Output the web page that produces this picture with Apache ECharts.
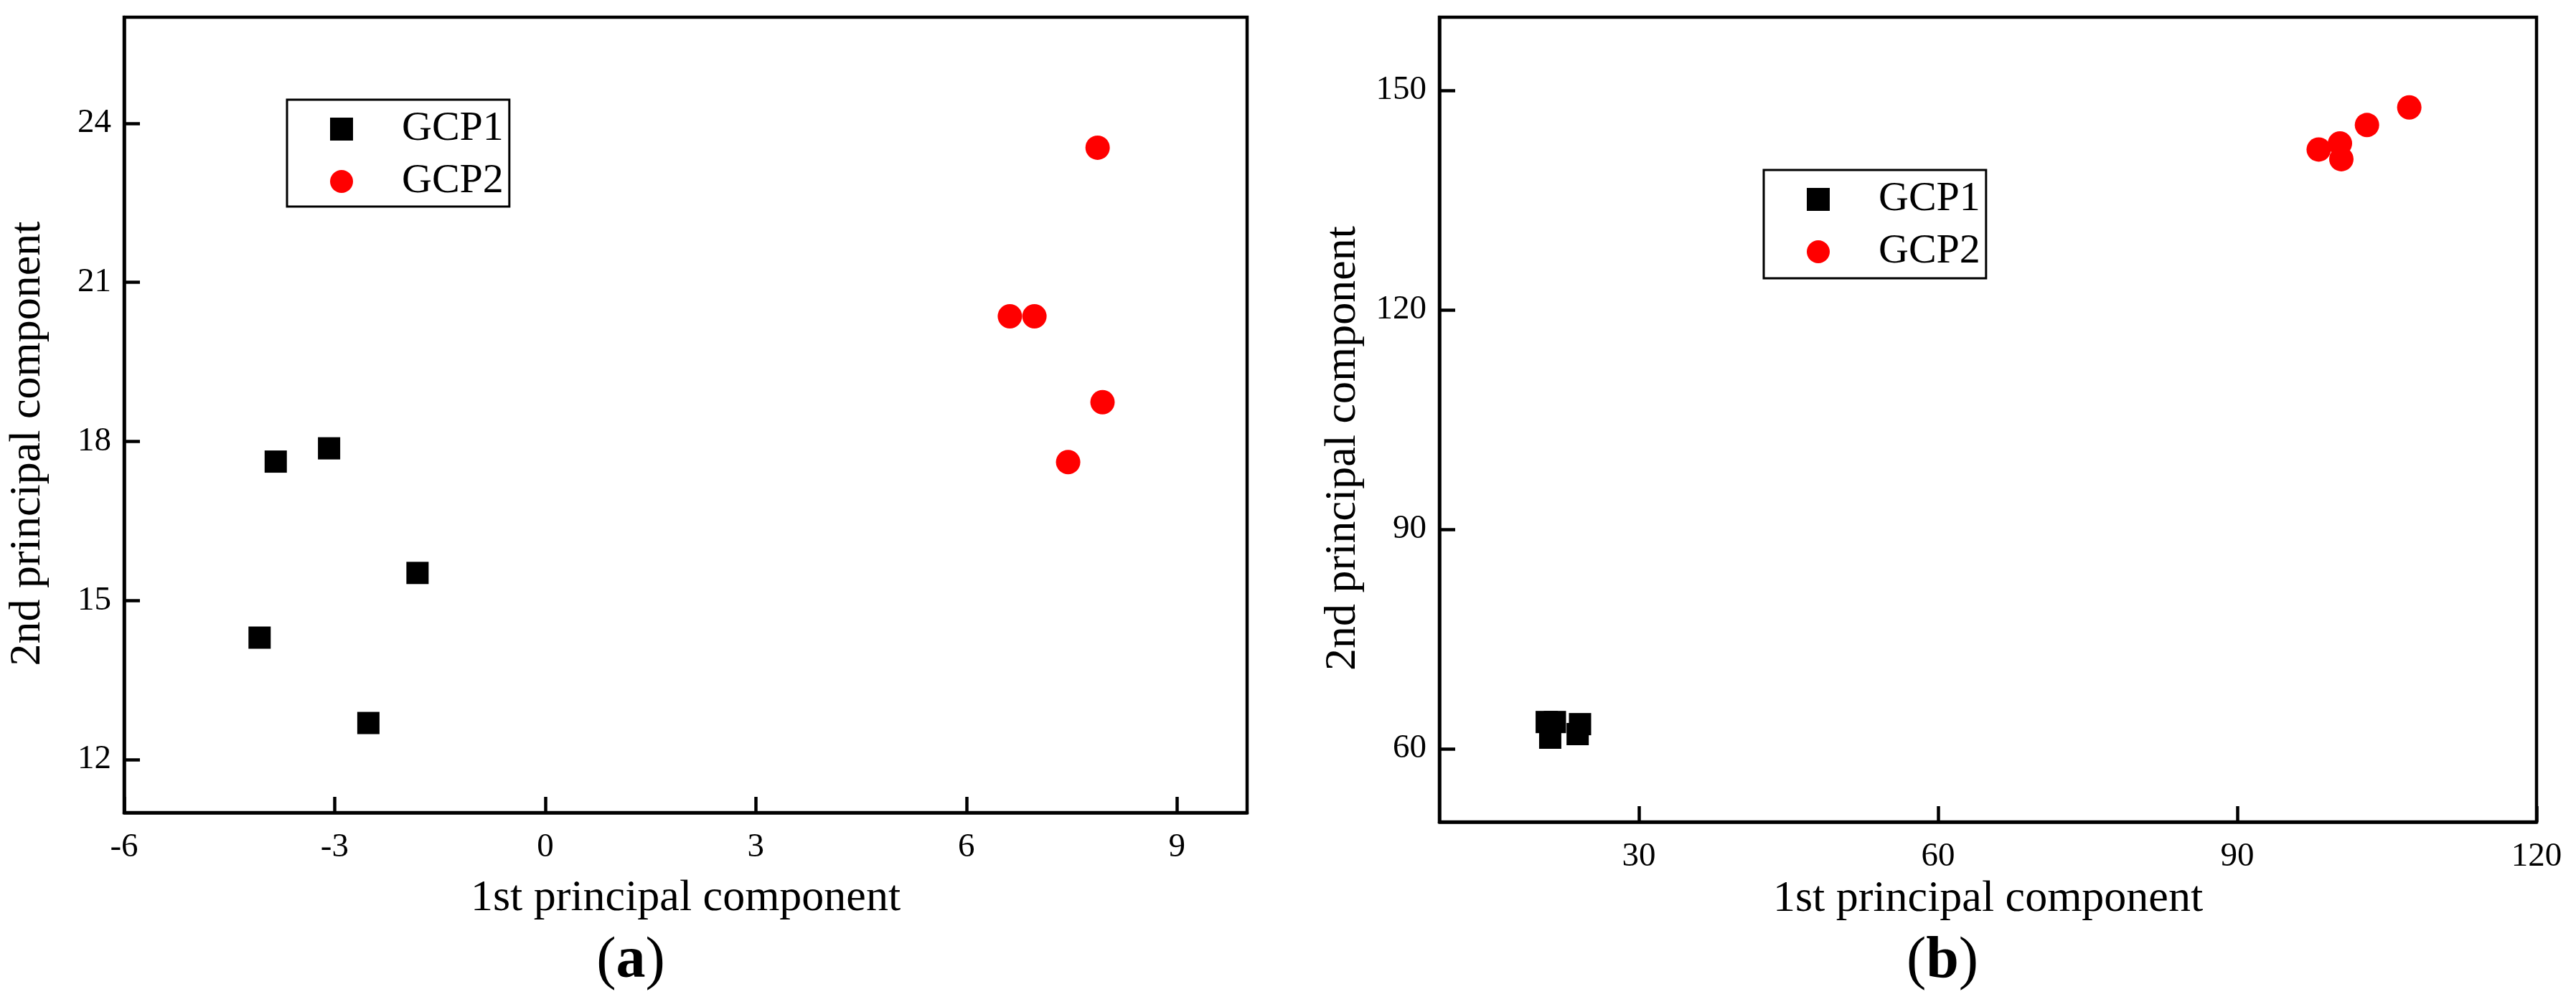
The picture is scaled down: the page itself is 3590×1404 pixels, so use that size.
<!DOCTYPE html>
<html>
<head>
<meta charset="utf-8">
<title>PCA scores</title>
<script src="https://cdn.jsdelivr.net/npm/echarts@6/dist/echarts.min.js"></script>
<style>
  html, body { margin: 0; padding: 0; background: #fff; }
  #chart { width: 3590px; height: 1404px; }
</style>
</head>
<body>
<div id="chart"></div>
<script>
// panel (a) scores, [1st PC, 2nd PC]
var gcp1A = [[-3.84, 17.62], [-3.08, 17.87], [-1.82, 15.52], [-4.07, 14.30], [-2.52, 12.69]]
var gcp2A = [[7.87, 23.54], [6.62, 20.36], [6.97, 20.36], [7.94, 18.74], [7.45, 17.61]]
// panel (b) scores
var gcp1B = [[20.76, 63.66], [21.58, 63.66], [21.11, 61.52], [24.10, 63.37], [23.86, 62.01]]
var gcp2B = [[98.16, 141.92], [100.29, 142.74], [100.43, 140.60], [103.00, 145.26], [107.24, 147.67]]

// tick labels
var xTicksA = [-6, -3, 0, 3, 6, 9]
var yTicksA = [12, 15, 18, 21, 24]
var xTicksB = [30, 60, 90, 120]
var yTicksB = [60, 90, 120, 150]

var seriesNames = ['GCP1', 'GCP2']
var xTitle = '1st principal component'
var yTitle = '2nd principal component'

var FONT = '"Liberation Serif", "Times New Roman", serif'

function xAxisOf (idx, min, max, ticks, gap) {
  return {
    type: 'value', gridIndex: idx, min: min, max: max,
    name: xTitle, nameLocation: 'middle', nameGap: gap,
    nameTextStyle: { fontFamily: FONT, fontSize: 62, color: '#000' },
    axisLine: { show: true, onZero: false, lineStyle: { color: '#000', width: 4.5 } },
    axisTick: { show: true, inside: true, length: 22, customValues: ticks, lineStyle: { color: '#000', width: 4.5 } },
    axisLabel: { customValues: ticks, margin: 25, fontFamily: FONT, fontSize: 47, color: '#000' },
    splitLine: { show: false }
  }
}

function yAxisOf (idx, min, max, ticks) {
  return {
    type: 'value', gridIndex: idx, min: min, max: max,
    name: yTitle, nameLocation: 'middle', nameGap: 103, nameRotate: 90,
    nameTextStyle: { fontFamily: FONT, fontSize: 62, color: '#000', padding: [0, 80, 0, 0] },
    axisLine: { show: true, onZero: false, lineStyle: { color: '#000', width: 4.5 } },
    axisTick: { show: true, inside: true, length: 22, customValues: ticks, lineStyle: { color: '#000', width: 4.5 } },
    axisLabel: { customValues: ticks, margin: 18, fontFamily: FONT, fontSize: 47, color: '#000' },
    splitLine: { show: false }
  }
}

function legendOf (left, top, padBottom) {
  return {
    data: seriesNames, orient: 'vertical', left: left, top: top,
    itemWidth: 32, itemHeight: 32, itemGap: 15,
    padding: [12, 8, padBottom, 60],
    borderColor: '#000', borderWidth: 3, backgroundColor: '#fff',
    selectedMode: false,
    textStyle: { fontFamily: FONT, fontSize: 58, lineHeight: 58, color: '#000', padding: [0, 0, 0, 63] }
  }
}

function scatter (name, data, idx, symbol, size, color) {
  return {
    name: name, type: 'scatter', xAxisIndex: idx, yAxisIndex: idx,
    symbol: symbol, symbolSize: size, data: data,
    itemStyle: { color: color, opacity: 1 }
  }
}

var option = {
  animation: false,
  backgroundColor: '#fff',
  grid: [
    { left: 173, top: 24, width: 1565, height: 1109, show: true, borderColor: '#000', borderWidth: 4.5, backgroundColor: 'transparent' },
    { left: 2006, top: 24, width: 1529, height: 1122, show: true, borderColor: '#000', borderWidth: 4.5, backgroundColor: 'transparent' }
  ],
  xAxis: [xAxisOf(0, -6, 10, xTicksA, 89), xAxisOf(1, 10, 120, xTicksB, 76)],
  yAxis: [yAxisOf(0, 11, 26, yTicksA), yAxisOf(1, 50, 160, yTicksB)],
  legend: [legendOf(400, 139, 6), legendOf(2458, 237, 8)],
  title: [
    { text: '({b|a})', left: 879, top: 1300, textAlign: 'center', padding: 0,
      textStyle: { fontFamily: FONT, fontSize: 82, fontWeight: 'normal', color: '#000',
        rich: { b: { fontFamily: FONT, fontSize: 82, fontWeight: 'bold', color: '#000' } } } },
    { text: '({b|b})', left: 2707, top: 1300, textAlign: 'center', padding: 0,
      textStyle: { fontFamily: FONT, fontSize: 82, fontWeight: 'normal', color: '#000',
        rich: { b: { fontFamily: FONT, fontSize: 82, fontWeight: 'bold', color: '#000' } } } }
  ],
  series: [
    scatter('GCP1', gcp1A, 0, 'rect', 31, '#000000'),
    scatter('GCP2', gcp2A, 0, 'circle', 34, '#ff0000'),
    scatter('GCP1', gcp1B, 1, 'rect', 31, '#000000'),
    scatter('GCP2', gcp2B, 1, 'circle', 34, '#ff0000')
  ]
}

var myChart = echarts.init(document.getElementById('chart'), null, { renderer: 'canvas' })
myChart.setOption(option)
</script>
</body>
</html>
